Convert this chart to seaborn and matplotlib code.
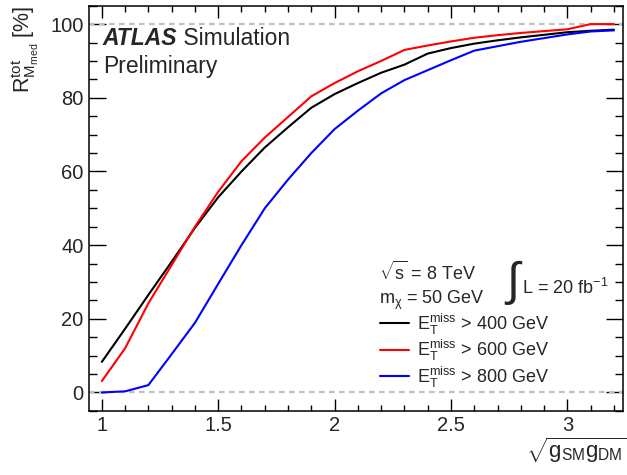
import numpy as np
import pandas as pd
import seaborn as sns
import matplotlib
matplotlib.use("Agg")
import matplotlib.pyplot as plt
from matplotlib.ticker import MultipleLocator

# values
g_coupling = [1.0, 1.1, 1.2, 1.3, 1.4, 1.5, 1.6, 1.7, 1.8, 1.9, 2.0, 2.1,
              2.2, 2.3, 2.4, 2.5, 2.6, 2.7, 2.8, 2.9, 3.0, 3.1, 3.2]
r_400 = [8.3, 17.3, 26.5, 35.5, 44.7, 53.0, 60.0, 66.5, 72.0, 77.3, 81.0, 84.0,
         86.8, 89.0, 92.0, 93.5, 94.7, 95.6, 96.4, 97.1, 97.8, 98.2, 98.5]
r_600 = [3.1, 12.0, 24.2, 34.6, 45.0, 54.5, 62.8, 69.2, 74.8, 80.4, 84.0, 87.2,
         90.0, 93.0, 94.2, 95.3, 96.3, 97.0, 97.6, 98.1, 98.6, 100.0, 100.0]
r_800 = [0.0, 0.3, 2.0, 10.4, 18.9, 29.5, 40.0, 50.0, 57.8, 65.0, 71.5, 76.5,
         81.2, 84.8, 87.5, 90.2, 92.8, 94.0, 95.2, 96.2, 97.2, 98.0, 98.3]
cut_labels = [r"$E_{T}^{miss}$ > 400 GeV", r"$E_{T}^{miss}$ > 600 GeV", r"$E_{T}^{miss}$ > 800 GeV"]
line_colors = ["#000000", "#ff0000", "#0000ff"]

df = pd.DataFrame({
    "g": g_coupling * 3,
    "R": r_400 + r_600 + r_800,
    "cut": [cut_labels[0]] * len(g_coupling) + [cut_labels[1]] * len(g_coupling) + [cut_labels[2]] * len(g_coupling),
})

sns.set_style("ticks")
plt.rcParams["font.family"] = ["Liberation Sans", "DejaVu Sans"]
plt.rcParams["mathtext.fontset"] = "custom"
plt.rcParams["mathtext.rm"] = "Liberation Sans"
plt.rcParams["mathtext.it"] = "Liberation Sans:italic"
plt.rcParams["mathtext.bf"] = "Liberation Sans:bold"
plt.rcParams["mathtext.default"] = "regular"

fig = plt.figure(figsize=(6.27, 4.75), dpi=100)
ax = fig.add_axes([0.142, 0.135, 0.852, 0.853])

# reference lines at 0 and 100 %
for yv in [0, 100]:
    ax.axhline(yv, color="#c0c0c0", lw=1.6, ls=(0, (2.5, 2.0)), zorder=1)

sns.lineplot(data=df, x="g", y="R", hue="cut", palette=line_colors, linewidth=1.5,
             ax=ax, legend=False, zorder=3)

ax.set_xlim(0.945, 3.24)
ax.set_ylim(-5, 105)
ax.xaxis.set_minor_locator(MultipleLocator(0.1))
ax.yaxis.set_major_locator(MultipleLocator(20))
ax.yaxis.set_minor_locator(MultipleLocator(5))
ax.set_xticks([1, 1.5, 2, 2.5, 3])
ax.set_xticklabels(["1", "1.5", "2", "2.5", "3"])

for s in ax.spines.values():
    s.set_linewidth(1.1)
    s.set_color("black")
ax.tick_params(axis="both", which="both", direction="in", top=True, right=True,
               width=1.0, color="black", labelsize=14.5)
ax.tick_params(axis="x", which="major", length=8.5, pad=4)
ax.tick_params(axis="x", which="minor", length=4.3)
ax.tick_params(axis="y", which="major", length=12, pad=4)
ax.tick_params(axis="y", which="minor", length=6)

ax.set_ylabel(r"$R^{tot}_{M_{med}}$ [%]", fontsize=15.5, loc="top")
ax.yaxis.set_label_coords(-0.09, 1.0)
ax.set_xlabel(r"$\sqrt{g_{SM}g_{DM}}$", fontsize=16, loc="right")
ax.xaxis.set_label_coords(1.008, -0.062)

# ATLAS label
t1 = ax.text(0.026, 0.904, "ATLAS", transform=ax.transAxes, fontsize=16.5,
             fontweight="bold", fontstyle="italic", va="baseline")
ax.annotate(" Simulation", xy=(1, 0), xycoords=t1, fontsize=16.5, va="bottom")
ax.text(0.026, 0.835, "Preliminary", transform=ax.transAxes, fontsize=16.5, va="baseline")

# conditions
ax.text(0.543, 0.323, r"$\sqrt{s}$ = 8 TeV", transform=ax.transAxes, fontsize=13, va="baseline")
ax.text(0.543, 0.265, r"m$_{\chi}$ = 50 GeV", transform=ax.transAxes, fontsize=13, va="baseline")
ax.text(0.776, 0.316, r"$\int$", transform=ax.transAxes, fontsize=34, va="center")
ax.text(0.81, 0.288, r"L = 20 fb$^{-1}$", transform=ax.transAxes, fontsize=13, va="baseline")

handles = [plt.Line2D([], [], color=c, lw=1.5) for c in line_colors]
ax.legend(handles, cut_labels, loc="upper left", bbox_to_anchor=(0.545, 0.245),
          frameon=False, fontsize=13, handlelength=1.6, handletextpad=0.45,
          labelspacing=0.08, borderpad=0, borderaxespad=0)

fig.savefig("out.png", dpi=100)
